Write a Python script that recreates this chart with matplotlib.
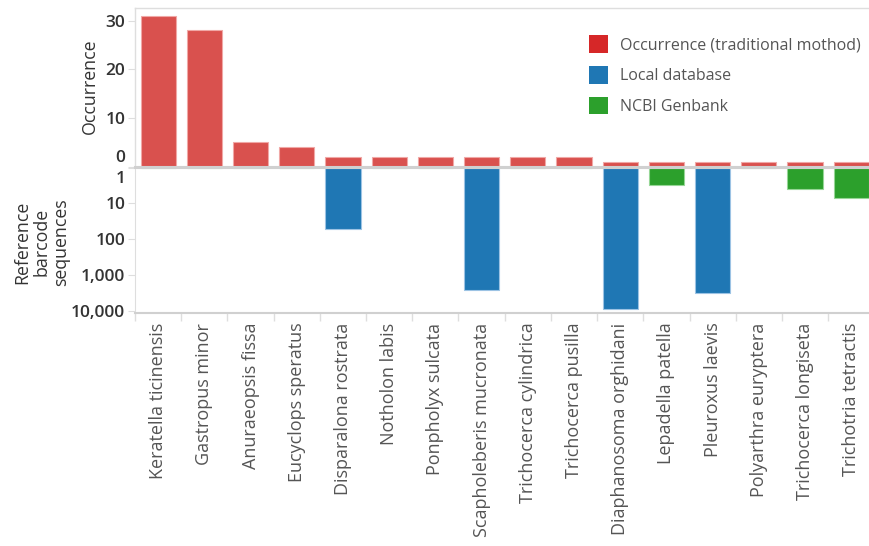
import matplotlib
matplotlib.use("Agg")
import matplotlib.pyplot as plt
from matplotlib.patches import Patch
import matplotlib.transforms as mtransforms
import numpy as np

plt.rcParams['font.family'] = ['Open Sans', 'DejaVu Sans']

species = ["Keratella ticinensis", "Gastropus minor", "Anuraeopsis fissa",
           "Eucyclops speratus", "Disparalona rostrata", "Notholon labis",
           "Ponpholyx sulcata", "Scapholeberis mucronata", "Trichocerca cylindrica",
           "Trichocerca pusilla", "Diaphanosoma orghidani", "Lepadella patella",
           "Pleuroxus laevis", "Polyarthra euryptera", "Trichocerca longiseta",
           "Trichotria tetractis"]
occurrence = [31, 28, 5, 4, 2, 2, 2, 2, 2, 2, 1, 1, 1, 1, 1, 1]
# reference barcode sequence counts and the source database of each
sequences = [1, 1, 1, 1, 52, 1, 1, 2650, 1, 1, 9000, 3, 3250, 1, 4, 7]
source = ["", "", "", "", "local", "", "", "local", "", "", "local", "ncbi",
          "local", "", "ncbi", "ncbi"]
legend_labels = ["Occurrence (traditional mothod)", "Local database", "NCBI Genbank"]
occ_ticks = [0, 10, 20, 30]
seq_ticks = [1, 10, 100, 1000, 10000]
seq_tick_labels = ["1", "10", "100", "1,000", "10,000"]

RED, BLUE, GREEN = "#d62728", "#1f77b4", "#2ca02c"
BAR_RED = "#d9514e"
GRID = "#dedede"
TXT = "#333333"

W, H = 870, 546
fig = plt.figure(figsize=(W / 100, H / 100), dpi=100)

left = 135 / W
right = 1.005
ax_top = fig.add_axes([left, 1 - 166.5 / H, right - left, (166.5 - 7.5) / H])
ax_bot = fig.add_axes([left, 1 - 313 / H, right - left, (313 - 167.5) / H])

x = np.arange(len(species))
bw = 0.76
tick_font = dict(fontsize=12.5, color=TXT, fontweight="semibold")

# upper panel: occurrence counts
ax_top.bar(x, occurrence, width=bw, color=BAR_RED, edgecolor="#f0a8a6", linewidth=0.8)
ax_top.set_xlim(-0.5, len(species) - 0.5)
ax_top.set_ylim(0, 32.7)
ax_top.set_yticks(occ_ticks)
ax_top.set_yticklabels([str(t) for t in occ_ticks], **tick_font)
ax_top.set_xticks([])
ax_top.spines["right"].set_visible(False)
for s in ["left", "top"]:
    ax_top.spines[s].set_color(GRID)
    ax_top.spines[s].set_linewidth(1.0)
ax_top.spines["bottom"].set_color("#d0d0d0")
ax_top.spines["bottom"].set_linewidth(1.5)
ax_top.tick_params(axis="y", length=5, color=GRID, pad=2)
ax_top.get_yticklabels()[0].set_va("bottom")

# lower panel: reference sequences, log scale growing downward
colors = [BLUE if s == "local" else GREEN for s in source]
edges = ["#9cc3e4" if s == "local" else "#96d696" for s in source]
seq_vals = np.array(sequences, dtype=float)
ax_bot.bar(x, seq_vals - 1, bottom=1, width=bw, color=colors,
           edgecolor=edges, linewidth=0.8)
ax_bot.set_yscale("log")
ax_bot.set_ylim(10 ** 4.064, 1)
ax_bot.set_xlim(-0.5, len(species) - 0.5)
ax_bot.set_yticks(seq_ticks)
ax_bot.set_yticklabels([""] + seq_tick_labels[1:], **tick_font)
ax_bot.yaxis.set_minor_locator(matplotlib.ticker.NullLocator())
ax_bot.spines["right"].set_visible(False)
ax_bot.spines["left"].set_color(GRID)
ax_bot.spines["top"].set_color("#d0d0d0")
ax_bot.spines["top"].set_linewidth(1.5)
ax_bot.spines["bottom"].set_color("#d0d0d0")
ax_bot.spines["bottom"].set_linewidth(1.5)
ax_bot.tick_params(axis="y", length=5, color=GRID, pad=2)
# the "1" label sits just inside the panel, below the shared baseline
ax_bot.annotate(seq_tick_labels[0], xy=(0, seq_ticks[0]),
                xycoords=mtransforms.blended_transform_factory(ax_bot.transAxes, ax_bot.transData),
                xytext=(-7, -8), textcoords="offset points", ha="right", va="center",
                **tick_font)

ax_bot.set_xticks(x)
ax_bot.set_xticklabels(species, rotation=90, fontsize=13, color="#555555")
ax_bot.tick_params(axis="x", which="major", length=0, pad=7)
ax_bot.set_xticks(np.arange(len(species) + 1) - 0.5, minor=True)
ax_bot.tick_params(axis="x", which="minor", length=6, color=GRID, width=1)

# axis titles
fig.text(90 / W, 1 - 86 / H, "Occurrence", rotation=90, ha="center", va="center",
         fontsize=12.8, color=TXT)
fig.text(42 / W, 1 - 242 / H, "Reference\nbarcode\nsequences", rotation=90,
         ha="center", va="center", fontsize=12.8, color=TXT, linespacing=1.1,
         multialignment="center")

handles = [Patch(facecolor=c, edgecolor="none") for c in (RED, BLUE, GREEN)]
leg = ax_top.legend(handles, legend_labels, loc="upper right",
                    bbox_to_anchor=(0.99, 0.865), frameon=False, fontsize=11.5,
                    handlelength=1.2, handleheight=1.3, labelspacing=0.8,
                    handletextpad=0.75, borderaxespad=0)
for t in leg.get_texts():
    t.set_color("#555555")

fig.savefig("out.png", dpi=100)
